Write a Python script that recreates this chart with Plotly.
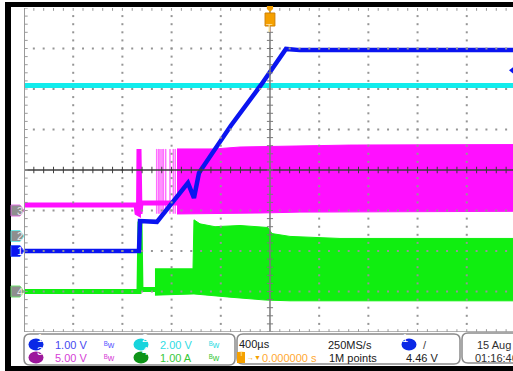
import plotly.graph_objects as go

# figure / screen geometry (pixels)
W, H = 513, 371
L, T, PW, PH = 24, 8, 489, 324

# scope settings
t_div = 400          # µs per division
x_range = [-2000, 1976]
y_range = [-4, 4]

# channel scale (per div) and ground offset (div)
ch1_scale, ch1_off = 1.0, -2.0
ch2_scale, ch2_off = 2.0, -1.63
ch3_scale, ch3_off = 5.0, -1.0
ch4_scale, ch4_off = 1.0, -3.0
trig_level = 4.46

# ch1 - output voltage (V)
ch1_t = [-2000, -1065, -1057, -919, -667, -618, -577, -317, -73, 130, 244, 2000]
ch1_v = [0.0, 0.0, 0.74, 0.72, 1.68, 1.31, 1.93, 3.10, 4.10, 4.99, 4.96, 4.96]

# ch2 - input voltage (V)
ch2_t = [-2000, 2000]
ch2_v = [7.43, 7.43]

# ch3 - switch node (V)
ch3_t = [-2000, -1089, -1081, -1069, -1065, -1057, -1049, -756]
ch3_v = [0.68, 0.68, -0.3, -0.4, 7.6, -0.4, 0.93, 0.93]
ch3_spike_t = [-921, -905, -894, -878, -867, -848, -813, -786, -770]
ch3_spike_hi, ch3_spike_lo = 7.6, -0.4
ch3_top_t = [-756, -447, -244, 163, 650, 2000]
ch3_top_v = [7.6, 7.6, 7.84, 7.96, 8.08, 8.14]
ch3_bot_t = [-756, -81, 244, 2000]
ch3_bot_v = [-0.43, -0.31, -0.2, -0.1]

# ch4 - inductor current (A)
ch4_t = [-2000, -1065, -1057, -1049, -935]
ch4_v = [0.0, 0.0, 1.73, 0.05, 0.05]
ch4_top_t = [-935, -626, -618, -569, -447, -244, -16, 16, 163, 569, 2000]
ch4_top_v = [0.56, 0.56, 1.77, 1.67, 1.60, 1.63, 1.58, 1.43, 1.36, 1.31, 1.31]
ch4_bot_t = [-935, -618, -325, -40, 163, 2000]
ch4_bot_v = [-0.09, -0.06, -0.14, -0.21, -0.23, -0.23]

BLUE = '#0a14f0'
CYAN = '#12ecec'
MAGENTA = '#ff10ff'
GREEN = '#10ee10'
ORANGE = '#f5a000'
FONT = 'Liberation Sans Narrow, Liberation Sans, Arial, sans-serif'
FS = 11


def div(vals, scale, off):
    return [v / scale + off for v in vals]


def px(x):
    return (x - L) / PW


def py(y):
    return (T + PH - y) / PH


def ydiv_to_paper(d):
    return (d - y_range[0]) / (y_range[1] - y_range[0])


fig = go.Figure()

# ch3 band + pre-switching line
fig.add_trace(go.Scatter(
    x=ch3_top_t + ch3_bot_t[::-1],
    y=div(ch3_top_v + ch3_bot_v[::-1], ch3_scale, ch3_off),
    fill='toself', fillcolor=MAGENTA, line=dict(color=MAGENTA, width=1), mode='lines'))
sx, sy = [], []
for t in ch3_spike_t:
    sx += [t, t, None]
    sy += [ch3_spike_hi / ch3_scale + ch3_off, ch3_spike_lo / ch3_scale + ch3_off, None]
fig.add_trace(go.Scatter(x=sx, y=sy, mode='lines', opacity=0.6,
                         line=dict(color=MAGENTA, width=1.5)))
fig.add_trace(go.Scatter(x=ch3_t, y=div(ch3_v, ch3_scale, ch3_off), mode='lines',
                         line=dict(color=MAGENTA, width=5)))

# ch4 band + pre-switching line
fig.add_trace(go.Scatter(
    x=ch4_top_t + ch4_bot_t[::-1],
    y=div(ch4_top_v + ch4_bot_v[::-1], ch4_scale, ch4_off),
    fill='toself', fillcolor=GREEN, line=dict(color=GREEN, width=1), mode='lines'))
fig.add_trace(go.Scatter(x=ch4_t, y=div(ch4_v, ch4_scale, ch4_off), mode='lines',
                         line=dict(color=GREEN, width=5)))

# ch2 and ch1
fig.add_trace(go.Scatter(x=ch2_t, y=div(ch2_v, ch2_scale, ch2_off), mode='lines',
                         line=dict(color=CYAN, width=5)))
fig.add_trace(go.Scatter(x=ch1_t, y=div(ch1_v, ch1_scale, ch1_off), mode='lines',
                         line=dict(color=BLUE, width=4.5)))

# graticule dots (drawn on top like a scope)
minor_x = [-2000 + i * t_div / 5 for i in range(51)]
minor_y = [-4 + i * 0.2 for i in range(41)]
gx, gy = [], []
for mx in range(-1600, 2001, t_div):
    if mx == 0:
        continue
    for my in minor_y[1:-1]:
        gx.append(mx)
        gy.append(my)
for my in [-3, -2, -1, 1, 2, 3]:
    for mx in minor_x[1:-1]:
        gx.append(mx)
        gy.append(my)
fig.add_trace(go.Scatter(x=gx, y=gy, mode='markers',
                         marker=dict(symbol='square', size=2, color='#959595', line=dict(width=0))))


# tick marks on center lines and borders
def ticks(color, segs, width=1):
    xs, ys = [], []
    for (x0, y0, x1, y1) in segs:
        xs += [x0, x1, None]
        ys += [y0, y1, None]
    fig.add_trace(go.Scatter(x=xs, y=ys, mode='lines', line=dict(color=color, width=width)))


ticks('#3c3c3c', [(-2000, 0, 2000, 0)], 1.5)
ticks('#3c3c3c', [(mx, -0.08, mx, 0.08) for mx in minor_x])
ticks('#7a7a7a', [(0, -4, 0, 4)], 1.5)
ticks('#7a7a7a', [(-25, my, 25, my) for my in minor_y])
ticks('#9a9a9a', [(-2000, -4, -2000, 4)], 2)
ticks('#9a9a9a', [(-2000, my, -1970, my) for my in minor_y])
ticks('#9a9a9a', [(mx, 4, mx, 3.93) for mx in minor_x])
ticks('#9a9a9a', [(-2000, -4, 2000, -4)], 1.5)
ticks('#9a9a9a', [(mx, -4, mx, -3.93) for mx in minor_x])

shapes = []
annots = []

# black screen frame
for x0, y0, x1, y1 in [(5, 2, 11, 371), (5, 2, 513, 7), (5, 366, 513, 371)]:
    shapes.append(dict(type='rect', xref='paper', yref='paper', x0=px(x0), x1=px(x1),
                       y0=py(y1), y1=py(y0), fillcolor='black', line=dict(width=0)))

# channel ground markers on the left
h = 5.5 / PH * 8
for num, off, fill, edge, txt in [('3', ch3_off, '#8e8e8e', '#e070e0', '#e8e8e8'),
                                  ('2', ch2_off, '#8e8e8e', '#70e8e8', '#e8e8e8'),
                                  ('1', ch1_off, BLUE, '#4060ff', 'white'),
                                  ('4', ch4_off, '#8e8e8e', '#70e070', '#e8e8e8')]:
    x0, x1, x2 = px(11), px(20), px(24)
    path = f'M{x0},{off + h} L{x1},{off + h} L{x2},{off} L{x1},{off - h} L{x0},{off - h} Z'
    shapes.append(dict(type='path', xref='paper', yref='y', path=path, fillcolor=fill,
                       line=dict(color=edge, width=1)))
    annots.append(dict(xref='paper', yref='paper', x=px(16), y=ydiv_to_paper(off), text=num,
                       showarrow=False, borderpad=0, yanchor='middle',
                       font=dict(family=FONT, size=11, color=txt)))

# trigger level marker on the right
lvl = trig_level / ch1_scale + ch1_off
hh = 4 / PH * 8
shapes.append(dict(type='path', xref='paper', yref='y',
                   path=f'M{px(509)},{lvl} L{px(514)},{lvl + hh} L{px(514)},{lvl - hh} Z',
                   fillcolor=BLUE, line=dict(width=0)))

# trigger position marker at top
shapes.append(dict(type='path', xref='x', yref='paper',
                   path=f'M-25,{py(6)} L25,{py(6)} L25,{py(9)} L0,{py(12)} L-25,{py(9)} Z',
                   fillcolor=ORANGE, line=dict(width=0)))
shapes.append(dict(type='rect', xref='x', yref='paper', x0=-40, x1=40, y0=py(26), y1=py(13),
                   fillcolor=ORANGE, line=dict(color='#d08000', width=1)))
annots.append(dict(xref='x', yref='paper', x=0, y=py(19.5), text='T', showarrow=False,
                   font=dict(family=FONT, size=11, color='#ffe0a0')))


# status bar panels
def rrect(x0, y0, x1, y1, r=6):
    return (f'M{px(x0 + r)},{py(y0)} L{px(x1 - r)},{py(y0)} Q{px(x1)},{py(y0)} {px(x1)},{py(y0 + r)} '
            f'L{px(x1)},{py(y1 - r)} Q{px(x1)},{py(y1)} {px(x1 - r)},{py(y1)} '
            f'L{px(x0 + r)},{py(y1)} Q{px(x0)},{py(y1)} {px(x0)},{py(y1 - r)} '
            f'L{px(x0)},{py(y0 + r)} Q{px(x0)},{py(y0)} {px(x0 + r)},{py(y0)} Z')


for x0, y0, x1, y1 in [(24, 334, 235, 365), (237, 334, 460, 364), (462, 333, 530, 363)]:
    shapes.append(dict(type='path', xref='paper', yref='paper', path=rrect(x0, y0, x1, y1),
                       fillcolor='white', line=dict(color='#8a8a8a', width=1.5)))

R1, R2 = 344.5, 357.5


def badge(cx, cy, num, fill):
    shapes.append(dict(type='circle', xref='paper', yref='paper', x0=px(cx - 7.5), x1=px(cx + 7.5),
                       y0=py(cy + 6), y1=py(cy - 6), fillcolor=fill, line=dict(width=0)))
    annots.append(dict(xref='paper', yref='paper', x=px(cx), y=py(cy), text=num, borderpad=0,
                       showarrow=False, font=dict(family=FONT, size=11, color='white')))


def label(x, y, text, color, size=FS):
    annots.append(dict(xref='paper', yref='paper', x=px(x), y=py(y), text=text, showarrow=False,
                       xanchor='left', yanchor='middle', borderpad=0,
                       font=dict(family=FONT, size=size, color=color)))


def bw(x, y, color):
    label(x, y, 'ᴮw', color, 9)


badge(36, R1, '1', '#0a28e6')
label(54, R1, '1.00 V', '#4848f0')
bw(103, R1, '#5a5aff')
badge(141, R1, '2', '#18d4dc')
label(159, R1, '2.00 V', '#30dce4')
bw(208, R1, '#30dce4')
badge(36, R2, '3', '#9c189c')
label(54, R2, '5.00 V', '#d640d6')
bw(103, R2, '#d640d6')
badge(141, R2, '4', '#0e9418')
label(159, R2, '1.00 A', '#38c838')
bw(208, R2, '#38c838')

label(238, R1 - 0.5, '400µs', '#202020')
label(327, R1, '250MS/s', '#202020')
badge(409, R1, '1', '#0a28e6')
label(422, R1, '/', '#404040')
shapes.append(dict(type='rect', xref='paper', yref='paper', x0=px(237), x1=px(245),
                   y0=py(363), y1=py(352), fillcolor=ORANGE, line=dict(width=0)))
annots.append(dict(xref='paper', yref='paper', x=px(241), y=py(358.5), text='T', showarrow=False,
                   borderpad=0, font=dict(family=FONT, size=8, color='#ffe8b0')))
label(246, R2, '→▼', ORANGE, 7)
label(261, R2, '0.000000 s', '#ffa830')
label(328, R2, '1M points', '#202020')
label(405, R2, '4.46 V', '#202020')
label(476, R1, '15 Aug 2', '#303030')
label(474, R2, '01:16:46', '#303030')

fig.update_layout(
    width=W, height=H, margin=dict(l=L, r=0, t=T, b=H - T - PH, pad=0),
    paper_bgcolor='white', plot_bgcolor='white', showlegend=False,
    shapes=shapes, annotations=annots,
    xaxis=dict(range=x_range, showgrid=False, zeroline=False, showticklabels=False, fixedrange=True),
    yaxis=dict(range=y_range, showgrid=False, zeroline=False, showticklabels=False, fixedrange=True),
)

fig.write_html("out.html", config={'displayModeBar': False},
               post_script="document.body.style.margin='0';")
